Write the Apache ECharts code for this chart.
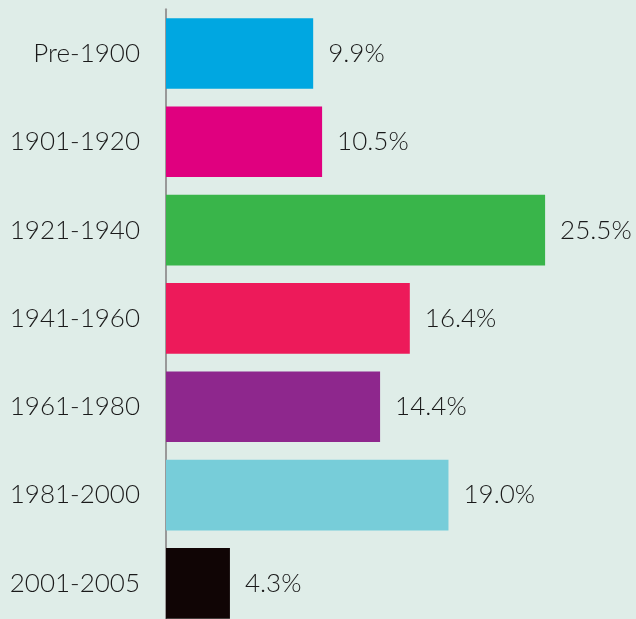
<!DOCTYPE html>
<html>
<head>
<meta charset="utf-8">
<script src="https://cdn.jsdelivr.net/npm/echarts@6/dist/echarts.min.js"></script>
<style>
  html, body { margin: 0; padding: 0; background: #dfede8; }
  #chart { width: 636px; height: 619px; }
</style>
</head>
<body>
<div id="chart"></div>
<script>
const categories = ['Pre-1900', '1901-1920', '1921-1940', '1941-1960', '1961-1980', '1981-2000', '2001-2005'];
const values = [9.9, 10.5, 25.5, 16.4, 14.4, 19.0, 4.3];
const colors = ['#00a7e1', '#e0007f', '#39b54a', '#ed1a5a', '#8e278d', '#77cdd9', '#100505'];

const myChart = echarts.init(document.getElementById('chart'));

const option = {
    backgroundColor: '#dfede8',
    animation: false,
    grid: {
        left: 166,
        top: 9.3,
        width: 446,
        height: 618.3,
        outerBoundsMode: 'none',
        containLabel: false
    },
    xAxis: {
        type: 'value',
        min: 0,
        max: 30,
        show: false
    },
    yAxis: {
        type: 'category',
        data: categories,
        inverse: true,
        axisLine: { show: true, lineStyle: { color: '#999999', width: 2 } },
        axisTick: { show: false },
        axisLabel: {
            margin: 26,
            color: '#1a1a1a',
            fontFamily: 'Lato',
            fontWeight: 300,
            fontSize: 26
        }
    },
    series: [{
        type: 'bar',
        barCategoryGap: '20%',
        data: values.map((v, i) => ({ value: v, itemStyle: { color: colors[i] } })),
        label: {
            show: true,
            position: 'right',
            distance: 15,
            color: '#1a1a1a',
            fontFamily: 'Lato',
            fontWeight: 300,
            fontSize: 26,
            formatter: p => p.value.toFixed(1) + '%'
        }
    }]
};

myChart.setOption(option);
</script>
</body>
</html>
